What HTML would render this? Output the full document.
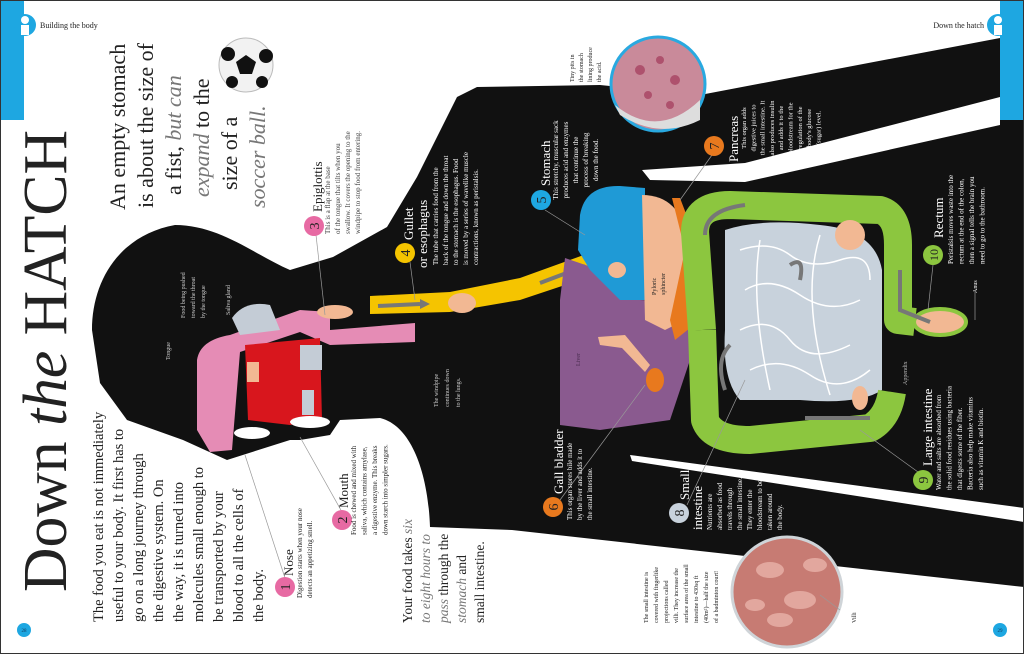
<!DOCTYPE html>
<html><head><meta charset="utf-8"><style>
html,body{margin:0;padding:0;background:#fff;}
svg{display:block;}
text{font-family:"Liberation Serif",serif;}
.w{fill:#fff}.k{fill:#222}
.s7{font-size:7px}.h{font-size:13px}
</style></head><body>
<svg width="1024" height="654" viewBox="0 0 1024 654" xmlns="http://www.w3.org/2000/svg">
<rect width="1024" height="654" fill="#fff"/>
<path fill="#111" d="M92,330 C92,280 120,235 175,225 C220,225 255,255 290,270 L333,257 L387,227 L417,177 L457,97 L477,87 L600,85 L700,95 L1000,38 L1000,120 L1024,120 L1024,587 L512,530 L430,527 C428,470 410,425 380,418 L340,420 L330,435 L300,440 L290,440 L227,460 L183,440 L127,420 L100,383 Z"/>
<polygon fill="#fff" points="642,170 745,163 1000,97 1000,125 745,182 650,180"/>
<polygon fill="#fff" points="630,455 1024,508 1024,522 632,461"/>
<rect x="0" y="0" width="24" height="120" fill="#1ea7e1"/>
<rect x="1000" y="0" width="24" height="120" fill="#1ea7e1"/>
<circle cx="25" cy="25" r="11" fill="#1ea7e1"/><circle cx="25" cy="20" r="4" fill="#fff"/><rect x="21" y="25" width="8" height="10" fill="#fff"/>
<circle cx="998" cy="25" r="11" fill="#1ea7e1"/><circle cx="998" cy="20" r="4" fill="#fff"/><rect x="994" y="25" width="8" height="10" fill="#fff"/>
<text x="40" y="28" font-size="8" class="k">Building the body</text>
<text x="984" y="28" font-size="8" class="k" text-anchor="end">Down the hatch</text>
<circle cx="24" cy="630" r="7" fill="#1ea7e1"/><text x="24" y="632" font-size="5" text-anchor="middle" fill="#135">28</text>
<circle cx="1000" cy="630" r="7" fill="#1ea7e1"/><text x="1000" y="632" font-size="5" text-anchor="middle" fill="#135">29</text>

<circle cx="246" cy="65" r="27" fill="#f2f2f2" stroke="#bbb"/>
<polygon points="246,55 256,62 252,74 240,74 236,62" fill="#111"/>
<circle cx="228" cy="54" r="7" fill="#111"/><circle cx="266" cy="56" r="7" fill="#111"/><circle cx="232" cy="82" r="6" fill="#111"/><circle cx="262" cy="82" r="6" fill="#111"/>

<path fill="#e58cb5" d="M197,360 Q200,340 230,335 L300,310 L330,312 L330,330 L415,323 L415,342 L330,345 L300,332 L240,352 L232,450 L210,452 L197,430 Z"/>
<path fill="#d8161d" d="M245,345 L320,338 L322,420 L290,425 L248,420 Z"/>
<rect x="247" y="362" width="12" height="20" fill="#f2b893"/>
<rect x="300" y="345" width="22" height="25" fill="#c4ccd6"/>
<rect x="302" y="390" width="12" height="25" fill="#c4ccd6"/>
<path fill="#c4ccd6" d="M232,318 Q245,300 270,305 L280,330 L240,335 Z"/>
<ellipse cx="252" cy="433" rx="18" ry="6" fill="#fff"/><ellipse cx="310" cy="422" rx="20" ry="6" fill="#fff"/>
<path fill="#f5c400" d="M370,296 L450,292 L520,278 L592,252 L598,274 L520,300 L450,312 L370,314 Z"/>
<ellipse cx="335" cy="312" rx="18" ry="7" fill="#f2b893"/>
<ellipse cx="462" cy="303" rx="14" ry="10" fill="#f2b893"/>
<path d="M378,306 L420,304" stroke="#777" stroke-width="4"/><polygon points="420,299 430,304 420,309" fill="#777"/>
<path d="M540,283 L585,266" stroke="#777" stroke-width="4"/>
<path fill="#8a5a8f" d="M565,258 L600,270 L640,300 L690,302 L690,360 L670,420 L600,430 L560,425 L560,300 Z"/>
<path fill="#f2b893" d="M598,337 L625,335 L650,365 L645,372 L622,348 L600,345 Z"/>
<ellipse cx="655" cy="380" rx="9" ry="12" fill="#e8791e"/>
<path fill="#1f9ad6" d="M580,215 Q585,185 620,186 L645,188 L645,300 L620,300 L605,285 L590,270 L578,250 Z"/>
<ellipse cx="617" cy="270" rx="9" ry="8" fill="#f2b893"/>
<path fill="#f2b893" d="M642,195 Q680,195 688,240 L685,320 L665,330 L645,320 Z"/>
<path fill="#e8791e" d="M672,198 L680,198 L700,250 L700,320 L675,340 L670,320 L685,250 Z"/>
<path fill="#c8d2dc" d="M725,230 Q760,218 820,225 Q875,230 882,270 L882,390 Q860,405 800,400 L740,400 Q722,380 725,330 Z"/>
<g stroke="#fff" stroke-width="1.5" fill="none">
<path d="M740,250 Q770,240 790,255 T840,260 T870,280"/><path d="M745,290 Q770,275 800,295 T860,300"/><path d="M740,330 Q770,315 790,340 T850,345"/><path d="M750,370 Q780,355 810,375 T870,370"/><path d="M760,240 Q750,300 770,390"/><path d="M820,235 Q800,300 830,395"/></g>
<path fill="none" stroke="#8cc63f" stroke-width="28" stroke-linejoin="round" d="M702,330 L695,232 Q695,205 730,205 L880,210 Q898,215 898,245 L898,320 L915,322"/>
<path fill="none" stroke="#8cc63f" stroke-width="28" stroke-linejoin="round" d="M702,330 L705,420 Q712,440 750,440 L870,428 Q888,418 892,392"/>
<ellipse cx="940" cy="322" rx="26" ry="13" fill="#f2b893" stroke="#8cc63f" stroke-width="4"/>
<ellipse cx="860" cy="398" rx="8" ry="12" fill="#f2b893"/>
<ellipse cx="850" cy="235" rx="15" ry="15" fill="#f2b893"/>
<g stroke="#777" stroke-width="4" fill="none"><path d="M705,235 Q705,210 745,205"/><path d="M900,270 L900,310 L930,322"/><path d="M725,390 Q715,360 730,345"/><path d="M870,418 L805,418"/><path d="M790,265 Q805,255 800,280"/></g>

<circle cx="658" cy="84" r="47" fill="#c98a9a" stroke="#29a9e0" stroke-width="3"/>
<g fill="#a33a5a" opacity=".7"><circle cx="640" cy="70" r="5"/><circle cx="660" cy="60" r="4"/><circle cx="675" cy="80" r="5"/><circle cx="648" cy="95" r="4"/><circle cx="670" cy="105" r="4"/></g>
<path d="M615,105 Q658,140 700,100 L700,120 Q660,140 620,115Z" fill="#ddd"/>
<circle cx="787" cy="592" r="55" fill="#c77b73" stroke="#cfd4d8" stroke-width="3"/>
<g fill="#e2a79e"><ellipse cx="770" cy="570" rx="14" ry="8"/><ellipse cx="800" cy="600" rx="16" ry="9"/><ellipse cx="780" cy="620" rx="13" ry="7"/><ellipse cx="815" cy="565" rx="12" ry="7"/><ellipse cx="755" cy="605" rx="10" ry="6"/></g>

<g stroke="#999" stroke-width=".7" fill="none">
<line x1="285" y1="578" x2="245" y2="455"/><line x1="342" y1="512" x2="300" y2="437"/><line x1="316" y1="235" x2="325" y2="315"/><line x1="410" y1="262" x2="415" y2="300"/><line x1="545" y1="210" x2="585" y2="235"/><line x1="712" y1="155" x2="680" y2="200"/><line x1="560" y1="500" x2="645" y2="385"/><line x1="687" y1="505" x2="745" y2="380"/><line x1="918" y1="472" x2="860" y2="430"/><line x1="933" y1="265" x2="928" y2="310"/><line x1="975" y1="292" x2="975" y2="320"/><line x1="840" y1="610" x2="820" y2="595"/>
</g>

<g font-size="14" text-anchor="middle">
<circle cx="285" cy="587" r="10" fill="#e76aa3"/><text transform="translate(290,587) rotate(-90)" class="k">1</text>
<circle cx="342" cy="520" r="10" fill="#e76aa3"/><text transform="translate(347,520) rotate(-90)" class="k">2</text>
<circle cx="314" cy="226" r="10" fill="#e76aa3"/><text transform="translate(319,226) rotate(-90)" class="k">3</text>
<circle cx="405" cy="253" r="10" fill="#f5c400"/><text transform="translate(410,253) rotate(-90)" class="k">4</text>
<circle cx="541" cy="200" r="10" fill="#1ea7e1"/><text transform="translate(546,200) rotate(-90)" class="k">5</text>
<circle cx="553" cy="507" r="10" fill="#e8791e"/><text transform="translate(558,507) rotate(-90)" class="k">6</text>
<circle cx="714" cy="146" r="10" fill="#e8791e"/><text transform="translate(719,146) rotate(-90)" class="k">7</text>
<circle cx="679" cy="513" r="10" fill="#c8d2dc"/><text transform="translate(684,513) rotate(-90)" class="k">8</text>
<circle cx="923" cy="480" r="10" fill="#8cc63f"/><text transform="translate(928,480) rotate(-90)" class="k">9</text>
<circle cx="933" cy="255" r="10" fill="#8cc63f"/><text transform="translate(938,255) rotate(-90)" font-size="12" class="k">10</text>
</g>

<text transform="translate(66,592) rotate(-90)" font-size="62" class="k" textLength="462" lengthAdjust="spacingAndGlyphs">Down <tspan font-style="italic">the</tspan> HATCH</text>

<g transform="translate(103,622) rotate(-90)" font-size="14.5" class="k">
<text y="0">The food you eat is not immediately</text><text y="20">useful to your body. It first has to</text><text y="40">go on a long journey through</text><text y="60">the digestive system. On</text><text y="80">the way, it is turned into</text><text y="100">molecules small enough to</text><text y="120">be transported by your</text><text y="140">blood to all the cells of</text><text y="160">the body.</text>
</g>
<g transform="translate(125,0) rotate(-90)" font-size="22" class="k">
<text x="-210" y="0">An empty stomach</text>
<text x="-208" y="28">is about the size of</text>
<text x="-195" y="56">a fist, <tspan font-style="italic" fill="#777">but can</tspan></text>
<text x="-197" y="84"><tspan font-style="italic" fill="#777">expand</tspan> to the</text>
<text x="-190" y="112">size of a</text>
<text x="-208" y="140" font-style="italic" fill="#777">soccer ball.</text>
</g>
<g transform="translate(412,623) rotate(-90)" font-size="13.5" class="k">
<text y="0">Your food takes <tspan font-style="italic" fill="#777">six</tspan></text><text y="18" font-style="italic" fill="#777">to eight hours to</text><text y="36"><tspan font-style="italic" fill="#777">pass</tspan> through the</text><text y="54"><tspan font-style="italic" fill="#777">stomach</tspan> and</text><text y="72">small intestine.</text>
</g>

<g class="s7">
<text class="h k" transform="translate(293,576) rotate(-90)">Nose</text>
<g transform="translate(302,598) rotate(-90)" class="k"><text>Digestion starts when your nose</text><text y="10">detects an appetizing smell.</text></g>
<text class="h k" transform="translate(348,508) rotate(-90)">Mouth</text>
<g transform="translate(356,535) rotate(-90)" class="k"><text>Food is chewed and mixed with</text><text y="10.5">saliva, which contains amylase,</text><text y="21">a digestive enzyme. This breaks</text><text y="31.5">down starch into simpler sugars.</text></g>
<text class="h k" transform="translate(322,212) rotate(-90)">Epiglottis</text>
<g transform="translate(330,234) rotate(-90)" fill="#444"><text>This is a flap at the base</text><text y="10">of the tongue that tilts when you</text><text y="20">swallow. It covers the opening to the</text><text y="30">windpipe to stop food from entering.</text></g>
<text class="h w" transform="translate(413,240) rotate(-90)">Gullet</text>
<text class="h w" transform="translate(427,268) rotate(-90)">or esophagus</text>
<g transform="translate(438,265) rotate(-90)" class="w"><text>The tube that carries food from the</text><text y="10">back of the tongue and down the throat</text><text y="20">to the stomach is the esophagus. Food</text><text y="30">is moved by a series of wavelike muscle</text><text y="40">contractions, known as peristalsis.</text></g>
<text class="h w" transform="translate(550,186) rotate(-90)">Stomach</text>
<g transform="translate(558,160) rotate(-90)" class="w" text-anchor="middle"><text>This stretchy, muscular sack</text><text y="10">produces acid and enzymes</text><text y="20">that continue the</text><text y="30">process of breaking</text><text y="40">down the food.</text></g>
<g transform="translate(574,82) rotate(-90)" class="k" font-size="6"><text>Tiny pits in</text><text y="9">the stomach</text><text y="18">lining produce</text><text y="27">the acid.</text></g>
<text class="h w" transform="translate(738,162) rotate(-90)">Pancreas</text>
<g transform="translate(746,128) rotate(-90)" class="w" text-anchor="middle" font-size="6.5"><text>This organ adds</text><text y="9.3">digestive juices to</text><text y="18.6">the small intestine. It</text><text y="27.9">also produces insulin</text><text y="37.2">and adds it to the</text><text y="46.5">bloodstream for the</text><text y="55.8">regulation of the</text><text y="65.1">body's glucose</text><text y="74.4">(sugar) level.</text></g>
<text class="h w" transform="translate(943,238) rotate(-90)">Rectum</text>
<g transform="translate(953,264) rotate(-90)" class="w"><text>Peristalsis moves waste into the</text><text y="10.5">rectum at the end of the colon,</text><text y="21">then a signal tells the brain you</text><text y="31.5">need to go to the bathroom.</text></g>
<text class="w" transform="translate(977,293) rotate(-90)" font-size="6">Anus</text>
<text class="h w" transform="translate(563,494) rotate(-90)">Gall bladder</text>
<g transform="translate(572,520) rotate(-90)" class="w"><text>This organ stores bile made</text><text y="10">by the liver and adds it to</text><text y="20">the small intestine.</text></g>
<text class="h w" transform="translate(689,500) rotate(-90)">Small</text>
<text class="h w" transform="translate(702,530) rotate(-90)">intestine</text>
<g transform="translate(712,530) rotate(-90)" class="w"><text>Nutrients are</text><text y="10">absorbed as food</text><text y="20">travels through</text><text y="30">the small intestine.</text><text y="40">They enter the</text><text y="50">bloodstream to be</text><text y="60">taken around</text><text y="70">the body.</text></g>
<text class="h w" transform="translate(932,466) rotate(-90)">Large intestine</text>
<g transform="translate(941,490) rotate(-90)" class="w"><text>Water and salts are absorbed from</text><text y="10.5">the solid food residues using bacteria</text><text y="21">that digests some of the fiber.</text><text y="31.5">Bacteria also help make vitamins</text><text y="42">such as vitamin K and biotin.</text></g>
<text fill="#bbb" transform="translate(907,385) rotate(-90)" font-size="6">Appendix</text>
<text fill="#4a2d50" transform="translate(580,366) rotate(-90)" font-size="6">Liver</text>
<g transform="translate(656,295) rotate(-90)" class="k" font-size="6"><text>Pyloric</text><text y="9">sphincter</text></g>
<g transform="translate(648,623) rotate(-90)" class="k" font-size="6"><text>The small intestine is</text><text y="10">covered with fingerlike</text><text y="20">projections called</text><text y="30">villi. They increase the</text><text y="40">surface area of the small</text><text y="50">intestine to 430sq ft</text><text y="60">(40m²)—half the size</text><text y="70">of a badminton court!</text></g>
<text class="k" transform="translate(856,623) rotate(-90)" font-size="6">Villi</text>
<text fill="#ccc" transform="translate(170,360) rotate(-90)" font-size="6">Tongue</text>
<g transform="translate(185,318) rotate(-90)" fill="#ccc" font-size="6"><text>Food being pushed</text><text y="10">toward the throat</text><text y="20">by the tongue</text></g>
<text fill="#ccc" transform="translate(230,315) rotate(-90)" font-size="6">Saliva gland</text>
<g transform="translate(438,407) rotate(-90)" fill="#ccc" font-size="6"><text>The windpipe</text><text y="11">continues down</text><text y="22">to the lungs.</text></g>
</g>
<rect x="0.5" y="0.5" width="1023" height="653" fill="none" stroke="#333" stroke-width="1"/>
</svg>
</body></html>
